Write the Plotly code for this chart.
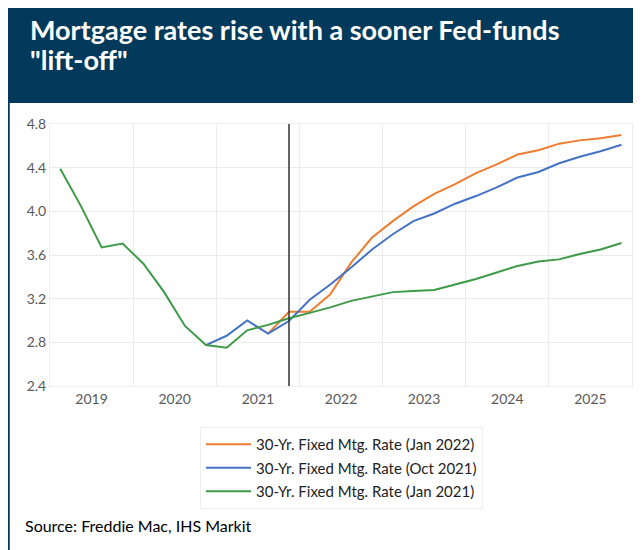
import pandas as pd
import plotly.graph_objects as go

# quarterly points, 2019Q1 .. 2025Q4
quarters = pd.period_range("2019Q1", "2025Q4", freq="Q")

rate_jan2022 = [None] * 10 + [
    2.88, 3.08, 3.08, 3.24, 3.53, 3.76, 3.91, 4.045, 4.16, 4.25,
    4.35, 4.43, 4.52, 4.56, 4.62, 4.65, 4.67, 4.70,
]
rate_oct2021 = [None] * 7 + [
    2.775, 2.86, 3.00, 2.88, 2.995, 3.19, 3.33, 3.485, 3.65, 3.79,
    3.91, 3.98, 4.07, 4.14, 4.22, 4.31, 4.36, 4.44, 4.50, 4.55, 4.61,
]
rate_jan2021 = [
    4.39, 4.05, 3.67, 3.705, 3.52, 3.26, 2.95, 2.775, 2.75, 2.91,
    2.96, 3.02, 3.07, 3.12, 3.18, 3.22, 3.26, 3.27, 3.28, 3.33,
    3.38, 3.44, 3.50, 3.54, 3.56, 3.61, 3.65, 3.71,
]
liftoff_quarter = "2021Q4"

title_lines = ["Mortgage rates rise with a sooner Fed-funds", '"lift-off"']
source = "Source: Freddie Mac, IHS Markit"

series = [
    ("30-Yr. Fixed Mtg. Rate (Jan 2022)", rate_jan2022, "#ED7D31"),
    ("30-Yr. Fixed Mtg. Rate (Oct 2021)", rate_oct2021, "#4472C4"),
    ("30-Yr. Fixed Mtg. Rate (Jan 2021)", rate_jan2021, "#3E9A47"),
]

def mid(p):
    return p.start_time + (p.end_time - p.start_time) / 2

x = [mid(q) for q in quarters]

NAVY = "#033A5B"
GREY = "#595959"

fig = go.Figure()
for i, (name, vals, col) in enumerate(series):
    fig.add_trace(go.Scatter(
        name=name, x=x, y=vals, mode="lines", legendgroup=str(i),
        line=dict(color=col, width=2),
    ))

# page body has an 8px margin, so the figure is 8px smaller each way
# plot area: 50..632 px wide, 124..386 px tall (page coords)
W, H = 582, 262
def px(v): return (v - 50) / W
def py(v): return (386 - v) / H

fig.update_layout(
    width=633, height=542,
    margin=dict(l=42, r=9, t=116, b=164),
    paper_bgcolor="white", plot_bgcolor="white",
    font=dict(family="Lato", color=GREY, size=14),
    showlegend=True,
    legend=dict(
        x=px(200), y=py(427), xanchor="left", yanchor="top",
        bordercolor="#EEEEEE", borderwidth=1,
        font=dict(family="Lato", size=15, color="#222222"),
        tracegroupgap=1, itemwidth=45,
    ),
)

for k, line in enumerate(title_lines):
    fig.add_annotation(
        text=line, xref="paper", yref="paper", x=px(28), y=py(11 + 29.5 * k),
        xanchor="left", yanchor="top", align="left", showarrow=False,
        font=dict(family="Lato", size=27, color="white", weight="bold"))

fig.add_annotation(
    text=source, xref="paper", yref="paper", x=px(23), y=py(525),
    xanchor="left", yanchor="middle", showarrow=False,
    font=dict(family="Lato", size=16, color="black"))

# header band and left frame line
fig.add_shape(type="rect", xref="paper", yref="paper",
              x0=px(0), x1=px(645), y0=py(103), y1=py(0),
              fillcolor=NAVY, line=dict(width=0), layer="below")
fig.add_shape(type="line", xref="paper", yref="paper",
              x0=px(8.5), x1=px(8.5), y0=py(103), y1=py(560),
              line=dict(color=NAVY, width=2.5))

# lift-off marker
fig.add_vline(x=mid(pd.Period(liftoff_quarter, freq="Q")),
              line=dict(color="#333333", width=1.5))

fig.update_xaxes(
    type="date",
    range=["2019-01-01", "2026-01-01"],
    dtick="M12", tick0="2019-01-01",
    ticklabelmode="period", tickformat="%Y",
    showgrid=True, gridcolor="#EBEBEB", gridwidth=1,
    showline=True, linecolor="#EEEEEE", mirror=True,
    ticks="", zeroline=False,
)
fig.update_yaxes(
    range=[2.4, 4.8], dtick=0.4, tick0=2.4, tickformat=".1f",
    showgrid=True, gridcolor="#EBEBEB", gridwidth=1,
    showline=True, linecolor="#EEEEEE", mirror=True,
    ticks="", zeroline=False,
)

fig.write_html("out.html")
